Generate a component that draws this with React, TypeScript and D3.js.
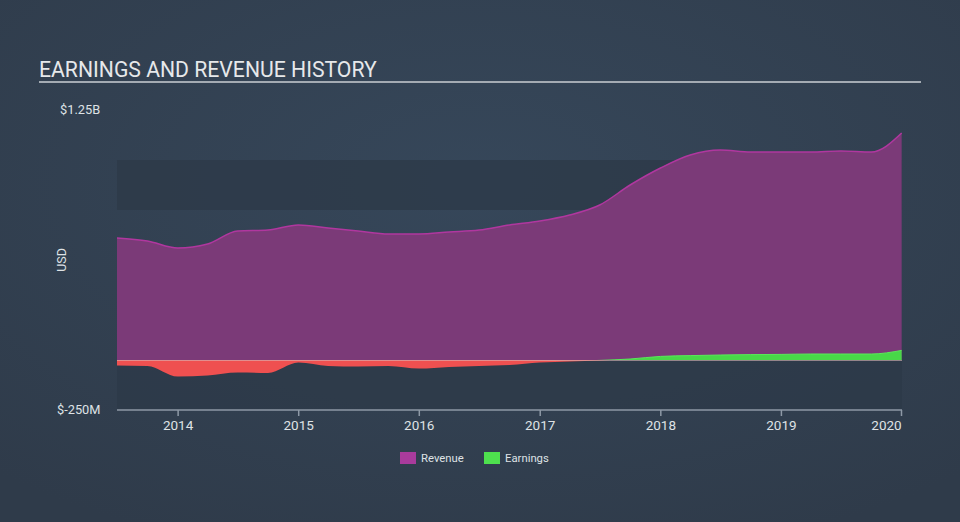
import React from "react";
import * as d3 from "d3";

const quarters: string[] = [
  "2013-06-30", "2013-09-30", "2013-12-31",
  "2014-03-31", "2014-06-30", "2014-09-30", "2014-12-31",
  "2015-03-31", "2015-06-30", "2015-09-30", "2015-12-31",
  "2016-03-31", "2016-06-30", "2016-09-30", "2016-12-31",
  "2017-03-31", "2017-06-30", "2017-09-30", "2017-12-31",
  "2018-03-31", "2018-06-30", "2018-09-30", "2018-12-31",
  "2019-03-31", "2019-06-30", "2019-09-30", "2019-12-31",
];
// values in millions USD
const revenue: number[] = [
  610, 595, 560,
  580, 645, 650, 675,
  660, 645, 630, 630,
  640, 650, 675, 695,
  725, 775, 875, 960,
  1025, 1050, 1040, 1040,
  1040, 1045, 1040, 1135,
];
const earnings: number[] = [
  -28, -30, -83,
  -78, -63, -65, -13,
  -30, -33, -30, -43,
  -35, -30, -25, -12,
  -7, -2, 5, 18,
  22, 25, 27, 28,
  30, 30, 30, 48,
];
const yearTicks: number[] = [2014, 2015, 2016, 2017, 2018, 2019, 2020];
const yLabels: { value: number; text: string }[] = [
  { value: 1250, text: "$1.25B" },
  { value: -250, text: "$-250M" },
];
const bandValues: number[] = [750, -250];
const legendItems = [
  { name: "Revenue", color: "#a93b9c" },
  { name: "Earnings", color: "#4ee04e" },
];

const W = 960;
const H = 522;
const X0 = 117;
const X1 = 902;
const Y_TOP = 110;
const Y_BOT = 410;

export default function App() {
  const parse = d3.timeParse("%Y-%m-%d");
  const dates = quarters.map((q) => parse(q) as Date);
  const x = d3
    .scaleTime()
    .domain([dates[0], new Date(2020, 0, 1)])
    .range([X0, X1]);
  const y = d3.scaleLinear().domain([-250, 1250]).range([Y_BOT, Y_TOP]);

  const revData = dates.map((d, i) => ({ d, v: revenue[i] }));
  const earnData = dates.map((d, i) => ({ d, v: earnings[i] }));

  const revArea = d3
    .area<{ d: Date; v: number }>()
    .x((p) => x(p.d))
    .y0(y(0))
    .y1((p) => y(p.v))
    .curve(d3.curveMonotoneX);
  const revLine = d3
    .line<{ d: Date; v: number }>()
    .x((p) => x(p.d))
    .y((p) => y(p.v))
    .curve(d3.curveMonotoneX);
  const earnArea = d3
    .area<{ d: Date; v: number }>()
    .x((p) => x(p.d))
    .y0(y(0))
    .y1((p) => y(p.v))
    .curve(d3.curveMonotoneX);
  const earnLine = d3
    .line<{ d: Date; v: number }>()
    .x((p) => x(p.d))
    .y((p) => y(p.v))
    .curve(d3.curveMonotoneX);

  const y0 = y(0);
  const font = "Roboto, 'Open Sans', sans-serif";

  return (
    <svg
      width={W}
      height={H}
      style={{ position: "absolute", left: 0, top: 0, display: "block" }}
    >
      <defs>
        <radialGradient id="bg" cx="50%" cy="35%" r="75%">
          <stop offset="0%" stopColor="#36475a" />
          <stop offset="100%" stopColor="#2f3b4a" />
        </radialGradient>
        <clipPath id="above">
          <rect x={X0} y={0} width={X1 - X0} height={y0} />
        </clipPath>
        <clipPath id="below">
          <rect x={X0} y={y0} width={X1 - X0} height={H - y0} />
        </clipPath>
      </defs>
      <rect x={0} y={0} width={W} height={H} fill="url(#bg)" />

      {/* title */}
      <text x={39} y={77} fill="#e6e8ea" fontFamily={font} fontSize={21.2}>
        EARNINGS AND REVENUE HISTORY
      </text>
      <line x1={39} x2={921} y1={82} y2={82} stroke="#a4abb3" strokeWidth={2} />

      {/* bands */}
      {bandValues.map((b) => (
        <rect
          key={b}
          x={X0}
          y={y(b + 250)}
          width={X1 - X0}
          height={y(b) - y(b + 250)}
          fill="#2d3a48"
          opacity={0.8}
        />
      ))}

      {/* revenue */}
      <path d={revArea(revData) || ""} fill="#7b3a78" />
      <path
        d={revLine(revData) || ""}
        fill="none"
        stroke="#b0379f"
        strokeWidth={1.5}
      />

      {/* earnings */}
      <g clipPath="url(#below)">
        <path d={earnArea(earnData) || ""} fill="#ef5050" />
      </g>
      <g clipPath="url(#above)">
        <path d={earnArea(earnData) || ""} fill="#48d848" />
        <path
          d={earnLine(earnData) || ""}
          fill="none"
          stroke="#5ae85a"
          strokeWidth={1}
        />
      </g>
      <line
        x1={X0}
        x2={X1}
        y1={y0 + 0.5}
        y2={y0 + 0.5}
        stroke="#d8b8b8"
        strokeOpacity={0.6}
        strokeWidth={1}
      />

      {/* y labels */}
      {yLabels.map((l) => (
        <text
          key={l.text}
          x={l.value > 0 ? 60 : 57}
          y={y(l.value)}
          dy="0.35em"
          fill="#dfe2e5"
          fontFamily={font}
          fontSize={12.8}
        >
          {l.text}
        </text>
      ))}
      <text
        transform={`translate(66, 260) rotate(-90)`}
        textAnchor="middle"
        fill="#dfe2e5"
        fontFamily={font}
        fontSize={12.5}
      >
        USD
      </text>

      {/* x axis */}
      <line x1={X0} x2={X1} y1={Y_BOT} y2={Y_BOT} stroke="#8e99a6" strokeWidth={1.5} />
      {yearTicks.map((yr) => {
        const xp = Math.min(x(new Date(yr, 0, 1)), X1 - 0.5);
        return (
          <g key={yr}>
            <line x1={xp} x2={xp} y1={Y_BOT} y2={Y_BOT + 6} stroke="#8e99a6" strokeWidth={1.5} />
            <text
              x={yr === 2020 ? xp - 15 : xp}
              y={425}
              dy="0.35em"
              textAnchor="middle"
              fill="#dfe2e5"
              fontFamily={font}
              fontSize={13.5}
            >
              {yr}
            </text>
          </g>
        );
      })}

      {/* legend */}
      {legendItems.map((item, i) => {
        const lx = i === 0 ? 400 : 484;
        return (
          <g key={item.name}>
            <rect x={lx} y={452} width={16} height={12} fill={item.color} />
            <text
              x={lx + 21}
              y={458}
              dy="0.35em"
              fill="#dfe2e5"
              fontFamily={font}
              fontSize={11.3}
            >
              {item.name}
            </text>
          </g>
        );
      })}
    </svg>
  );
}
